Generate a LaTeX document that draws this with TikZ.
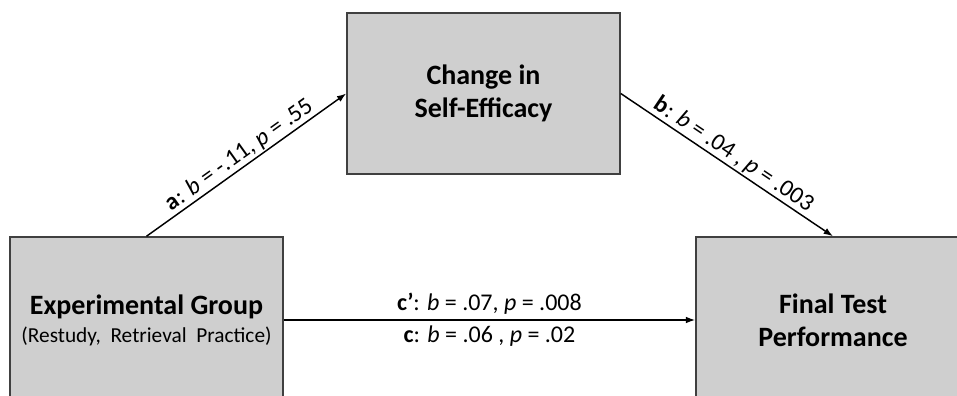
\documentclass[tikz,border=0pt]{standalone}
\usepackage{fontspec}
\setmainfont{Carlito}
\usetikzlibrary{arrows.meta}
\begin{document}
\begin{tikzpicture}[x=0.75pt,y=-0.75pt,
  box/.style={draw=black!75,line width=1.1pt,fill=black!19,inner sep=0pt,align=center,font=\fontsize{21}{25}\selectfont\bfseries},
  conn/.style={line width=1.1pt,-{Latex[length=7pt,width=5pt]}},
  lab/.style={font=\fontsize{18}{21}\selectfont,inner sep=3pt}]
\useasboundingbox (0,0) rectangle (957,396);
\clip (0,0) rectangle (957,396);
\node[box,minimum width=273*0.75pt,minimum height=166*0.75pt] (lb) at (146.5,320)
  {Experimental Group\\[-4pt]{\mdseries\fontsize{16}{19}\selectfont(Restudy,\ \ Retrieval\ \ Practice)}};
\node[box,minimum width=273*0.75pt,minimum height=161*0.75pt] (tb) at (483.5,93.5)
  {Change in\\Self-Efficacy};
\node[box,minimum width=274*0.75pt,minimum height=166*0.75pt] (rb) at (833,320)
  {Final Test\\Performance};
\draw[conn] (lb.north) -- node[lab,midway,above,sloped,yshift=-2pt]{\textbf{a}: \textit{b} = -.11, \textit{p} = .55} (tb.west);
\draw[conn] (tb.east) -- node[lab,midway,above,sloped,yshift=-2pt]{\textbf{b}: \textit{b} = .04 , \textit{p} = .003} (rb.north);
\draw[conn] (lb.east) -- node[lab,midway,above,yshift=1pt]{\textbf{c’}: \textit{b} = .07, \textit{p} = .008}
  node[lab,midway,below,yshift=-1pt]{\textbf{c}: \textit{b} = .06 , \textit{p} = .02} (rb.west);
\end{tikzpicture}
\end{document}
